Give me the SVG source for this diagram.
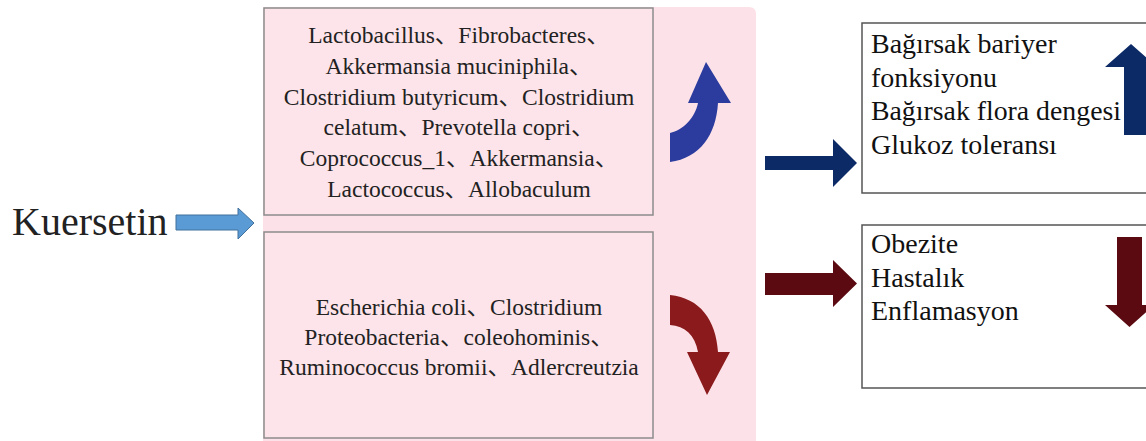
<svg xmlns="http://www.w3.org/2000/svg" width="1146" height="441" viewBox="0 0 1146 441">
<style>
.t{font-family:'Liberation Serif','Times New Roman','Noto Sans CJK SC',serif;fill:#222;}
.mid{font-size:23.5px;text-anchor:middle;}
.rt{font-size:28px;fill:#111;}
.box{fill:#fde4ea;stroke:#8c8c8c;stroke-width:1.5;}
.rbox{fill:#fff;stroke:#555;stroke-width:1.5;}
</style>
<rect width="1146" height="441" fill="#fff"/>
<g id="panel">
<path d="M263,7 H749 Q756,7 756,14 V441 H263 Z" fill="#fce2e8"/>
</g>
<g id="kuersetin">
<text class="t" x="12" y="235" font-size="40" fill="#111">Kuersetin</text>
</g>
<g id="increased-bacteria">
<rect class="box" x="264" y="8" width="389" height="207"/>
<text class="t mid" x="459" y="43">Lactobacillus、Fibrobacteres、</text>
<text class="t mid" x="459" y="74">Akkermansia muciniphila、</text>
<text class="t mid" x="459" y="105">Clostridium butyricum、Clostridium</text>
<text class="t mid" x="459" y="135">celatum、Prevotella copri、</text>
<text class="t mid" x="459" y="166">Coprococcus_1、Akkermansia、</text>
<text class="t mid" x="459" y="197">Lactococcus、Allobaculum</text>
</g>
<g id="decreased-bacteria">
<rect class="box" x="264" y="232" width="389" height="206"/>
<text class="t mid" x="459" y="315">Escherichia coli、Clostridium</text>
<text class="t mid" x="459" y="345">Proteobacteria、coleohominis、</text>
<text class="t mid" x="459" y="375">Ruminococcus bromii、Adlercreutzia</text>
</g>
<g id="benefits">
<rect class="rbox" x="862" y="23" width="300" height="170"/>
<text class="t rt" x="871" y="53">Bağırsak bariyer</text>
<text class="t rt" x="871" y="86.5">fonksiyonu</text>
<text class="t rt" x="871" y="120" textLength="250" lengthAdjust="spacingAndGlyphs">Bağırsak flora dengesi</text>
<text class="t rt" x="871" y="153.5">Glukoz toleransı</text>
</g>
<g id="harms">
<rect class="rbox" x="862" y="225" width="300" height="163"/>
<text class="t rt" x="871" y="253">Obezite</text>
<text class="t rt" x="871" y="286.5">Hastalık</text>
<text class="t rt" x="871" y="320">Enflamasyon</text>
</g>
<g id="connectors">
<path d="M176,215 H238 V208 L254,223 L238,239 V230 H176 Z" fill="#5b9bd5" stroke="#41719c" stroke-width="1"/>
<path d="M670,133 C683,130 695,118 698,103 L688,103 L706,62 L731,103 L718,103 C716,135 700,158 670,162 Z" fill="#2c3c9e"/>
<path d="M670,295 C700,298 716,320 718,352 L730,352 L707,395 L687,352 L698,352 C695,335 685,326 670,325 Z" fill="#8a1a1c"/>
<path d="M765,156 H833 V139 L857,163 L833,187 V170 H765 Z" fill="#0c2a66"/>
<path d="M765,273 H833 V260 L857,283.5 L833,307 V295 H765 Z" fill="#5a0a10"/>
<path d="M1124,135 V67 H1105 L1131,44 L1157,67 H1150 V135 Z" fill="#0c2a66"/>
<path d="M1117,237 V305 H1105 L1129.5,327 L1154,305 H1142 V237 Z" fill="#5a0a10"/>
</g>
</svg>
